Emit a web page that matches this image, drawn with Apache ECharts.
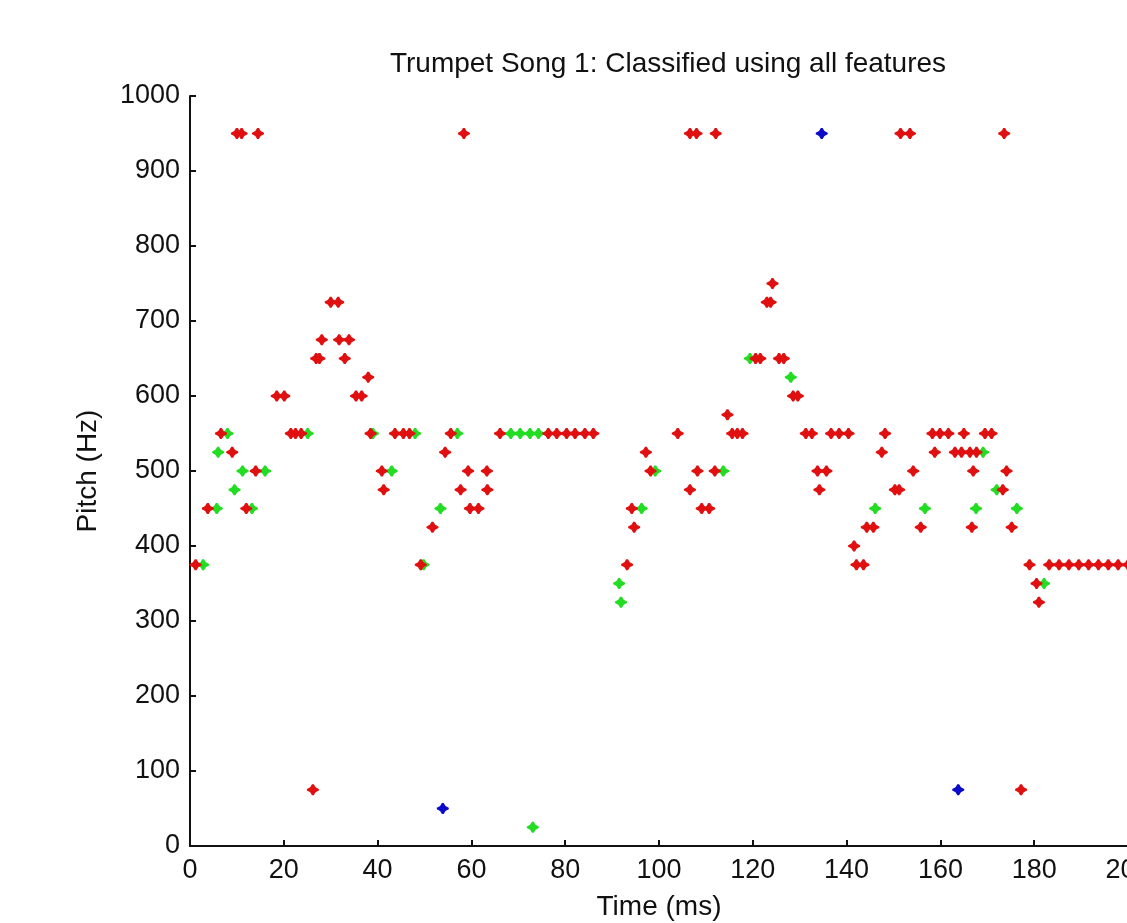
<!DOCTYPE html>
<html>
<head>
<meta charset="utf-8">
<title>Trumpet Song 1</title>
<script src="https://cdn.jsdelivr.net/npm/echarts@6/dist/echarts.min.js"></script>
<style>
  html, body { margin: 0; padding: 0; background: #fff; }
  #chart { width: 1127px; height: 923px; }
</style>
</head>
<body>
<div id="chart"></div>
<script>
// time (ms) and pitch (Hz) for each class
const redTime = [
  10.0, 11.0, 14.5, 58.4, 106.6, 108.0, 112.1, 151.5, 153.5, 173.6,
  26.2, 177.2,
  124.2,
  30.0, 31.6, 123.0, 123.8,
  28.1, 31.8, 33.9,
  26.9, 27.6, 33.0, 120.6, 121.6, 125.6, 126.6,
  38.0,
  18.5, 20.1, 35.4, 36.6, 128.6, 129.6,
  114.6,
  6.6, 21.5, 22.5, 23.7, 38.5, 43.7, 45.5, 46.8, 55.6, 66.1, 76.4, 78.2, 80.3, 82.1, 84.2, 86.0,
  104.0, 115.6, 116.7, 117.8, 131.3, 132.6, 136.7, 138.4, 140.4, 148.2, 158.3, 159.9, 161.7, 165.0, 169.5, 170.9,
  9.0, 54.4, 97.2, 147.5, 158.8, 163.1, 164.5, 166.3, 167.7,
  14.0, 40.9, 59.3, 63.3, 98.2, 108.2, 111.9, 133.8, 135.7, 154.2, 167.0, 174.1,
  41.3, 57.7, 63.4, 106.6, 134.2, 150.3, 151.2, 173.3,
  3.8, 12.0, 59.7, 61.5, 94.2, 109.1, 110.7,
  51.7, 94.7, 144.3, 145.7, 155.8, 166.7, 175.2,
  141.6,
  1.2, 49.2, 93.2, 142.1, 143.6, 179.0, 183.2, 185.3, 187.4, 189.5, 191.6, 193.7, 195.8, 197.9, 200.0,
  180.5,
  181.0
];
const redPitch = [
  950, 950, 950, 950, 950, 950, 950, 950, 950, 950,
  75, 75,
  750,
  725, 725, 725, 725,
  675, 675, 675,
  650, 650, 650, 650, 650, 650, 650,
  625,
  600, 600, 600, 600, 600, 600,
  575,
  550, 550, 550, 550, 550, 550, 550, 550, 550, 550, 550, 550, 550, 550, 550, 550,
  550, 550, 550, 550, 550, 550, 550, 550, 550, 550, 550, 550, 550, 550, 550, 550,
  525, 525, 525, 525, 525, 525, 525, 525, 525,
  500, 500, 500, 500, 500, 500, 500, 500, 500, 500, 500, 500,
  475, 475, 475, 475, 475, 475, 475, 475,
  450, 450, 450, 450, 450, 450, 450,
  425, 425, 425, 425, 425, 425, 425,
  400,
  375, 375, 375, 375, 375, 375, 375, 375, 375, 375, 375, 375, 375, 375, 375,
  350,
  325
];
const greenTime = [
  8.0, 25.1, 39.0, 48.0, 57.0, 68.4, 70.4, 72.5, 74.3,
  6.0, 169.1,
  11.2, 16.0, 43.0, 99.2, 113.7,
  9.5, 172.0,
  5.7, 13.2, 53.4, 96.3, 146.1, 156.7, 167.6, 176.3,
  2.8, 49.8,
  91.5, 182.1,
  91.9,
  128.1,
  119.4,
  73.1
];
const greenPitch = [
  550, 550, 550, 550, 550, 550, 550, 550, 550,
  525, 525,
  500, 500, 500, 500, 500,
  475, 475,
  450, 450, 450, 450, 450, 450, 450, 450,
  375, 375,
  350, 350,
  325,
  625,
  650,
  25
];
const blueTime = [134.7, 53.9, 163.8];
const bluePitch = [950, 50, 75];

const xTicks = [0, 20, 40, 60, 80, 100, 120, 140, 160, 180, 200];
const yTicks = [0, 100, 200, 300, 400, 500, 600, 700, 800, 900, 1000];

const pairs = (xs, ys) => xs.map((x, i) => [x, ys[i]]);

// fat plus with tapered arms, close to the blurry matlab markers
const markPath = 'path://M-1.5,-10 L1.5,-10 L4.5,-4.5 L10,-1.5 L10,1.5 L4.5,4.5 L1.5,10 L-1.5,10 L-4.5,4.5 L-10,1.5 L-10,-1.5 L-4.5,-4.5 Z';
const fontFamily = '"Liberation Sans", Arial, sans-serif';

const chart = echarts.init(document.getElementById('chart'));

const axisCommon = {
  axisLine: { show: true, lineStyle: { color: '#111', width: 2 } },
  axisTick: { show: true, inside: true, length: 6, lineStyle: { color: '#111', width: 2 } },
  splitLine: { show: false },
  axisLabel: { color: '#111', fontSize: 27, fontFamily: fontFamily, formatter: (v) => String(v) },
  nameTextStyle: { color: '#111', fontSize: 28, fontFamily: fontFamily }
};

const makeSeries = (name, xs, ys, color) => ({
  name: name,
  type: 'scatter',
  data: pairs(xs, ys),
  symbol: markPath,
  symbolSize: [12, 11],
  itemStyle: { color: color, opacity: 1 },
  clip: false
});

chart.setOption({
  animation: false,
  backgroundColor: '#fff',
  title: {
    text: 'Trumpet Song 1: Classified using all features',
    left: 663,
    top: 45,
    textAlign: 'center',
    textStyle: { color: '#111', fontSize: 28, fontWeight: 'normal', fontFamily: fontFamily }
  },
  grid: { left: 190, top: 96, bottom: 77, right: -1, containLabel: false, outerBoundsMode: 'none' },
  xAxis: {
    ...axisCommon,
    type: 'value',
    min: xTicks[0],
    max: xTicks[xTicks.length - 1],
    interval: 20,
    name: 'Time (ms)',
    nameLocation: 'middle',
    nameGap: 47,
    axisLabel: { ...axisCommon.axisLabel, margin: 11, showMaxLabel: true, hideOverlap: false }
  },
  yAxis: {
    ...axisCommon,
    type: 'value',
    min: yTicks[0],
    max: yTicks[yTicks.length - 1],
    interval: 100,
    name: 'Pitch (Hz)',
    nameLocation: 'middle',
    nameGap: 88,
    axisLabel: { ...axisCommon.axisLabel, margin: 10 }
  },
  series: [
    makeSeries('green', greenTime, greenPitch, '#22dd22'),
    makeSeries('red', redTime, redPitch, '#e01010'),
    makeSeries('blue', blueTime, bluePitch, '#0a0ac8')
  ]
});
</script>
</body>
</html>
